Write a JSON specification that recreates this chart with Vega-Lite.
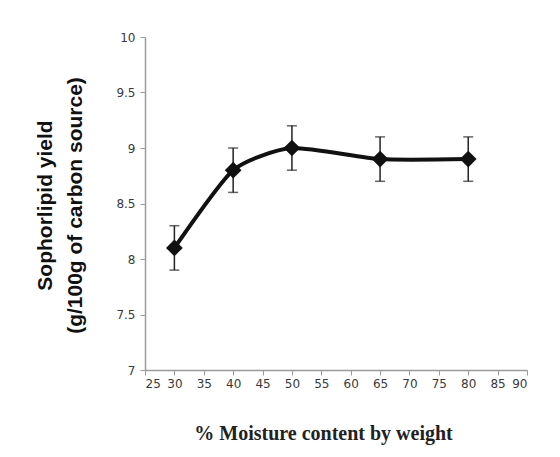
{
  "$schema": "https://vega.github.io/schema/vega-lite/v6.json",
  "width": 382,
  "height": 333,
  "autosize": {"type": "none"},
  "padding": {"left": 145, "top": 37, "right": 33, "bottom": 87},
  "background": "white",
  "config": {"view": {"stroke": null}},
  "data": {"values": [
    {"moisture": 30, "yield": 8.1, "lo": 7.9, "hi": 8.3},
    {"moisture": 40, "yield": 8.8, "lo": 8.6, "hi": 9.0},
    {"moisture": 50, "yield": 9.0, "lo": 8.8, "hi": 9.2},
    {"moisture": 65, "yield": 8.9, "lo": 8.7, "hi": 9.1},
    {"moisture": 80, "yield": 8.9, "lo": 8.7, "hi": 9.1}
  ]},
  "encoding": {
    "x": {"field": "moisture", "type": "quantitative",
      "scale": {"domain": [25, 90], "nice": false, "zero": false},
      "axis": {"values": [25,30,35,40,45,50,55,60,65,70,75,80,85,90], "grid": false,
        "domainColor": "#9a9a9a", "tickColor": "#9a9a9a", "tickSize": 5, "domainWidth": 1.5,
        "labelFont": "DejaVu Sans", "labelFontSize": 12, "labelColor": "#3a3a3a", "labelPadding": 3,
        "title": "% Moisture content by weight", "titleFont": "Liberation Serif", "titleFontSize": 20,
        "titleFontWeight": "bold", "titleColor": "#222", "titlePadding": 34, "titleX": 178, "titleAlign": "center"}},
    "y": {"field": "yield", "type": "quantitative",
      "scale": {"domain": [7, 10], "nice": false, "zero": false},
      "axis": {"values": [7, 7.5, 8, 8.5, 9, 9.5, 10], "format": ".1~f", "grid": false,
        "domainColor": "#9a9a9a", "tickColor": "#9a9a9a", "tickSize": 5, "domainWidth": 1.5,
        "labelFont": "DejaVu Sans", "labelFontSize": 12, "labelColor": "#3a3a3a", "labelPadding": 5,
        "title": ["Sophorlipid yield", "(g/100g of carbon source)"], "titleFont": "Liberation Sans",
        "titleFontSize": 21, "titleFontWeight": "bold", "titleColor": "#111",
        "titleX": -100, "titleY": 168, "titleAlign": "center", "titleBaseline": "middle", "titleLineHeight": 30}}
  },
  "layer": [
    {"mark": {"type": "line", "interpolate": "cardinal", "tension": 0.4, "color": "#111", "strokeWidth": 4}},
    {"mark": {"type": "rule", "color": "#222", "strokeWidth": 1.5},
      "encoding": {"y": {"field": "lo", "type": "quantitative"}, "y2": {"field": "hi"}}},
    {"mark": {"type": "tick", "orient": "horizontal", "color": "#222", "thickness": 1.5, "size": 10},
      "encoding": {"y": {"field": "lo", "type": "quantitative"}}},
    {"mark": {"type": "tick", "orient": "horizontal", "color": "#222", "thickness": 1.5, "size": 10},
      "encoding": {"y": {"field": "hi", "type": "quantitative"}}},
    {"mark": {"type": "point", "shape": "diamond", "filled": true, "color": "#111", "size": 280, "opacity": 1}}
  ]
}
